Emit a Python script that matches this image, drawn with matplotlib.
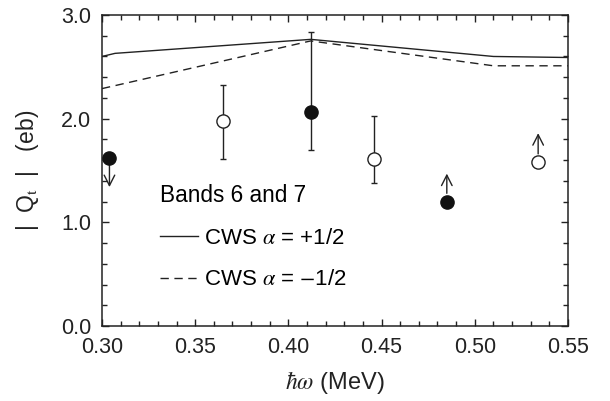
import matplotlib
matplotlib.use('Agg')
import numpy as np
import matplotlib.pyplot as plt
from matplotlib.ticker import MultipleLocator, FormatStrFormatter

plt.rcParams['font.family'] = ['Liberation Sans', 'DejaVu Sans']
plt.rcParams['mathtext.fontset'] = 'stix'

# ── data ─────────────────────────────────────────────────────────────────────
cws_pos_x = [0.300, 0.307, 0.412, 0.510, 0.550]
cws_pos_y = [2.60, 2.63, 2.765, 2.60, 2.59]
cws_neg_x = [0.300, 0.412, 0.510, 0.550]
cws_neg_y = [2.29, 2.75, 2.51, 2.51]

filled_x = [0.304, 0.412, 0.485]
filled_y = [1.62, 2.06, 1.20]
filled_lo = [np.nan, 1.70, np.nan]
filled_hi = [np.nan, 2.84, np.nan]

open_x = [0.365, 0.446, 0.534]
open_y = [1.98, 1.61, 1.58]
open_lo = [1.61, 1.38, np.nan]
open_hi = [2.32, 2.03, np.nan]

# limits (x, start, end) drawn as arrows
limit_x = [0.304, 0.485, 0.534]
limit_from = [1.55, 1.28, 1.66]
limit_to = [1.34, 1.47, 1.86]

fig = plt.figure(figsize=(6.1, 4.01), dpi=100)
ax = fig.add_axes([0.1672, 0.187, 0.7639, 0.7756])

ax.plot(cws_pos_x, cws_pos_y, color="#222222", lw=1.0, label=r"CWS $\alpha$ = +1/2")
ax.plot(cws_neg_x, cws_neg_y, color="#222222", lw=1.0, dashes=(6, 4),
        label=r"CWS $\alpha$ = $-$1/2")

def errs(y, lo, hi):
    y, lo, hi = map(np.asarray, (y, lo, hi))
    return [np.nan_to_num(y - lo), np.nan_to_num(hi - y)]

ax.errorbar(filled_x, filled_y, yerr=errs(filled_y, filled_lo, filled_hi),
            fmt="o", ms=9.5, mfc="#111111", mec="#111111", ecolor="#222222",
            elinewidth=1.0, capsize=2.5, capthick=1.0, zorder=4)
ax.errorbar(open_x, open_y, yerr=errs(open_y, open_lo, open_hi),
            fmt="o", ms=9.5, mfc="white", mec="#222222", mew=1.0, ecolor="#222222",
            elinewidth=1.0, capsize=2.5, capthick=1.0, zorder=4)

for lx, y0, y1 in zip(limit_x, limit_from, limit_to):
    ax.annotate("", xy=(lx, y1), xytext=(lx, y0),
                arrowprops=dict(arrowstyle="->,head_length=0.75,head_width=0.38",
                                color="#222222", lw=1.0, shrinkA=0, shrinkB=0))

ax.set_xlim(0.30, 0.55)
ax.set_ylim(0.0, 3.0)
ax.xaxis.set_major_locator(MultipleLocator(0.05))
ax.xaxis.set_minor_locator(MultipleLocator(0.01))
ax.yaxis.set_major_locator(MultipleLocator(1.0))
ax.yaxis.set_minor_locator(MultipleLocator(0.2))
ax.xaxis.set_major_formatter(FormatStrFormatter("%.2f"))
ax.yaxis.set_major_formatter(FormatStrFormatter("%.1f"))
ax.tick_params(which="both", direction="in", top=True, right=True, colors="#222222",
               labelsize=15.5, width=1.0)
ax.tick_params(which="major", length=5, pad=8)
ax.tick_params(which="minor", length=3.5)
for s in ax.spines.values():
    s.set_linewidth(1.1)
    s.set_color("#222222")

ax.set_xlabel(r"$\hbar\omega$ (MeV)", fontsize=17, color="#222222", labelpad=8)
ax.set_ylabel(r"|  Q$_\mathrm{t}$  |   (eb)", fontsize=16.5, color="#222222", labelpad=14)

leg = ax.legend(title="Bands 6 and 7", loc="upper left", bbox_to_anchor=(0.105, 0.485),
                frameon=False, fontsize=16, title_fontsize=16.3, handlelength=1.7,
                handletextpad=0.3, labelspacing=0.93, borderaxespad=0)
leg._legend_box.align = "left"

fig.savefig("out.png", dpi=100)
